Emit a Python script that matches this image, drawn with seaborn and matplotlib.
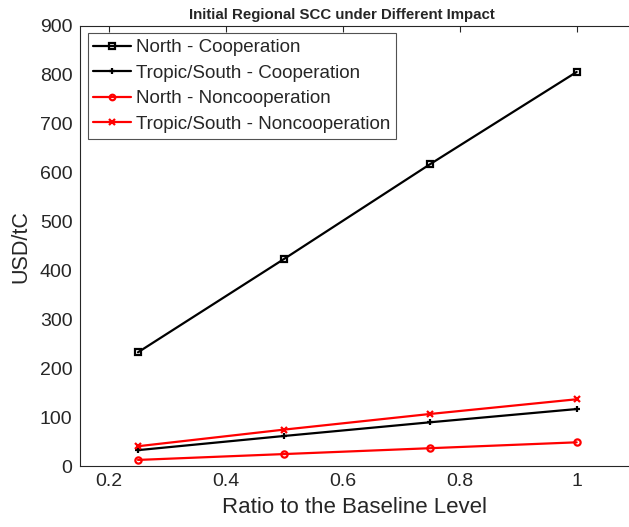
import matplotlib
matplotlib.use("Agg")
import matplotlib.pyplot as plt
import seaborn as sns
import pandas as pd

# Impact ratio relative to the baseline level
ratio = [0.25, 0.5, 0.75, 1.0]

# Initial regional SCC (USD/tC)
north_coop = [233, 424, 618, 806]
south_coop = [33, 62, 90, 117]
north_noncoop = [13, 25, 37, 49]
south_noncoop = [41, 75, 107, 137]

series_names = [
    "North - Cooperation",
    "Tropic/South - Cooperation",
    "North - Noncooperation",
    "Tropic/South - Noncooperation",
]
series_values = [north_coop, south_coop, north_noncoop, south_noncoop]
colors = ["black", "black", "red", "red"]
markers = ["s", "+", "o", "x"]

sns.set_style("white")
plt.rcParams["font.family"] = ["Liberation Sans", "DejaVu Sans"]

fig = plt.figure(figsize=(6.29, 5.27), dpi=100)
# plot box reaches the right edge of the canvas, with no right spine
ax = fig.add_axes([0.1264, 0.1152, 0.8736, 0.8355])
ax.patch.set_visible(False)

for n, v, c, m in zip(series_names, series_values, colors, markers):
    d = pd.DataFrame({"ratio": ratio, "scc": v})
    sns.lineplot(
        data=d, x="ratio", y="scc", color=c, marker=m,
        linewidth=1.6, markersize=4.5, markeredgewidth=1.6,
        markerfacecolor="none", markeredgecolor=c, ax=ax, label=n,
    )

ax.set_xlim(0.15, 1.0895)
ax.set_ylim(0, 900)
ax.set_xticks([0.2, 0.4, 0.6, 0.8, 1.0])
ax.set_xticklabels(["0.2", "0.4", "0.6", "0.8", "1"])
ax.set_yticks(range(0, 901, 100))

for s in ax.spines.values():
    s.set_color("#262626")
    s.set_linewidth(0.8)
ax.spines["right"].set_visible(False)
ax.tick_params(direction="in", length=4, width=0.8, color="#262626",
               labelsize=14, labelcolor="#262626", top=True, right=False,
               pad=5)

ax.set_xlabel("Ratio to the Baseline Level", fontsize=16,
              color="#262626", labelpad=5)
ax.set_ylabel("USD/tC", fontsize=15.5, color="#262626", labelpad=6)
ax.set_title("Initial Regional SCC under Different Impact",
             fontsize=10.8, fontweight="bold", pad=5, x=0.478)

leg = ax.legend(loc="upper left",
                bbox_to_anchor=(0.015, 0.983), fontsize=13.5,
                frameon=True, fancybox=False, edgecolor="#262626",
                handlelength=2.0, handletextpad=0.3, labelspacing=0.45,
                borderpad=0.3, borderaxespad=0)
leg.get_frame().set_linewidth(0.8)
for h in leg.legend_handles:
    h.set_markersize(4)

fig.savefig("out.png", dpi=100)
